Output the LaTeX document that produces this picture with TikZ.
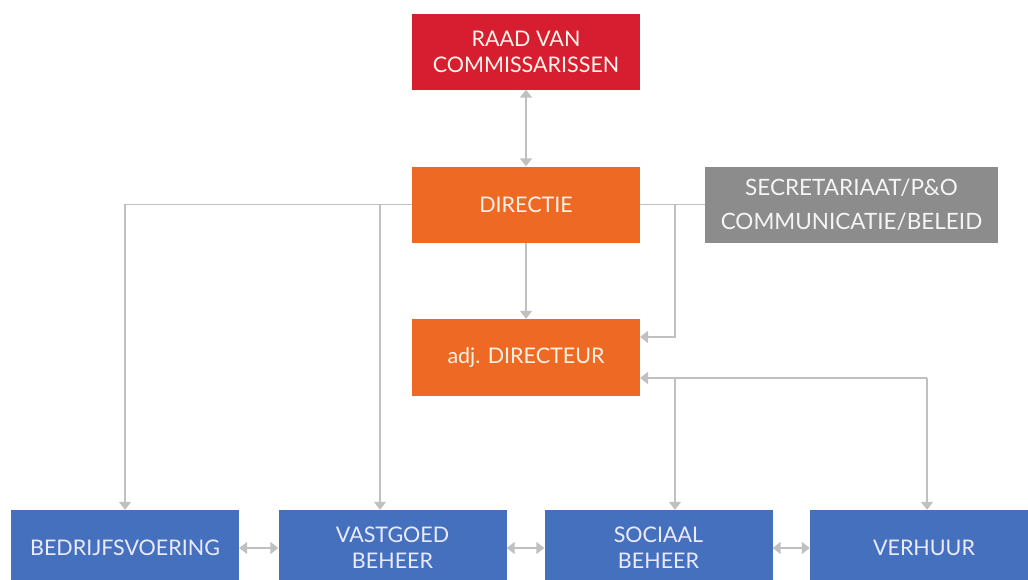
\documentclass[tikz,border=0pt]{standalone}
\usepackage{fontspec}
\setmainfont{Lato}
\usepackage{xcolor}
\usetikzlibrary{arrows.meta}
\definecolor{raadrood}{RGB}{214,30,48}
\definecolor{dirorange}{RGB}{238,106,36}
\definecolor{secgrijs}{RGB}{140,140,140}
\definecolor{afdblauw}{RGB}{69,112,190}
\definecolor{lijngrijs}{RGB}{192,192,192}
\tikzset{
  box/.style={minimum width=228pt,minimum height=76pt,inner sep=0pt,align=center,
    font=\fontsize{21.5}{26}\selectfont},
  raadbox/.style={box,fill=raadrood,text=white!92!orange},
  dirbox/.style={box,fill=dirorange,text=white!90!orange},
  secbox/.style={box,fill=secgrijs,text=white!92!gray,minimum width=293pt,
    font=\fontsize{22.5}{34}\selectfont},
  afdbox/.style={box,fill=afdblauw,text=white!92!blue},
  conn/.style={draw=lijngrijs,line width=1.6pt,
    arrows={-{Triangle[width=12pt,length=8pt]}}},
  dconn/.style={conn,arrows={{Triangle[width=12pt,length=8pt]}-{Triangle[width=12pt,length=8pt]}}},
  lijn/.style={draw=lijngrijs,line width=1.6pt}
}
\begin{document}
\begin{tikzpicture}[x=1pt,y=-1pt]
		\useasboundingbox (0,0) rectangle (1028,579);
		\clip (0,0) rectangle (1028,579);
		\node[raadbox] (raad) at (526,51.5) {RAAD VAN\\COMMISSARISSEN}; %raad
		\node[dirbox] (dir) at (526,204.5) {DIRECTIE}; %directie
		\node[secbox] (sec) at (851.5,204.5) {SECRETARIAAT/P\&O\\COMMUNICATIE/BELEID}; %staf
		\node[dirbox,minimum height=77pt] (adj) at (526,357.5) {adj. DIRECTEUR}; %adjunct
		\node[afdbox] (bedr) at (125,548) {BEDRIJFSVOERING}; %afdelingen
		\node[afdbox] (vast) at (392.5,548) {VASTGOED\\BEHEER};
		\node[afdbox] (soc) at (658.5,548) {SOCIAAL\\BEHEER};
		\node[afdbox] (verh) at (924,548) {VERHUUR};
		\coordinate (kv) at (380,204.5); %knooppunten
		\coordinate (ks) at (675,204.5);
		\coordinate (ka) at (640,337);
		\coordinate (kb) at (640,378);
		\coordinate (kr) at (927,378);
		\draw[dconn] (raad) -- (dir);
		\draw[conn] (dir) -- (adj);
		\draw[lijn] (dir) -- (sec);
		\draw[conn] (dir.west) -| (bedr);
		\draw[conn] (kv) -- (kv |- vast.north);
		\draw[conn] (ks) |- (ka);
		\draw[conn] (kr) -- (kb);
		\draw[conn] (kr) -- (kr |- verh.north);
		\draw[conn] (ks |- kb) -- (ks |- soc.north);
		\draw[dconn] (bedr) -- (vast);
		\draw[dconn] (vast) -- (soc);
		\draw[dconn] (soc) -- (verh);
	\end{tikzpicture}
\end{document}
